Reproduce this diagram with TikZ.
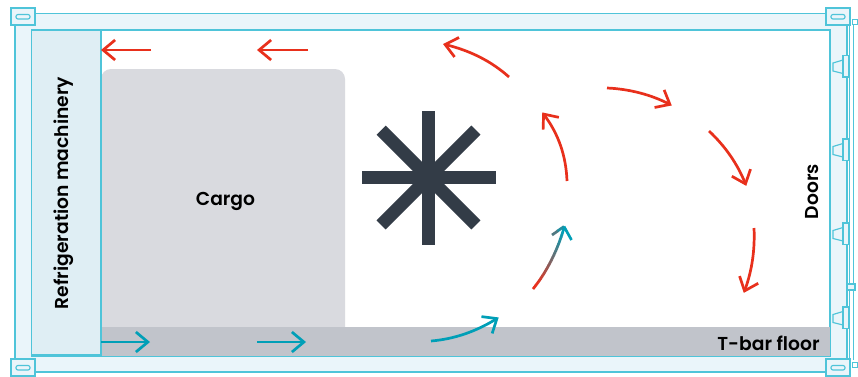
\documentclass[tikz,border=0pt]{standalone}
\usepackage{fontspec}
\setmainfont{Poppins}[BoldFont={Poppins SemiBold}]
\usetikzlibrary{arrows.meta,bending}
\definecolor{bandfill}{HTML}{EAF5FA}
\definecolor{bandline}{HTML}{4FC4D9}
\definecolor{machfill}{HTML}{DFEEF4}
\definecolor{cargofill}{HTML}{D9DADF}
\definecolor{floorfill}{HTML}{C1C4CB}
\definecolor{flowred}{HTML}{E8301C}
\definecolor{flowteal}{HTML}{009FB7}
\definecolor{fancol}{HTML}{333C47}
\tikzset{
  frameline/.style={draw=bandline,line width=1.15pt},
  thinframe/.style={draw=bandline,line width=0.9pt},
  framepart/.style={frameline,fill=bandfill},
  flowtip/.style={-{Straight Barb[length=12pt,width=20pt,flex]},shorten >=-2pt},
  redflow/.style={flowtip,draw=flowred,line width=2.7pt},
  tealflow/.style={flowtip,draw=flowteal,line width=2.7pt},
  textlabel/.style={font=\fontsize{18.7}{21}\selectfont\bfseries,text=black,inner sep=0pt},
  spoke/.style={draw=fancol,line width=13pt}
}
\begin{document}
\begin{tikzpicture}[x=1pt,y=-1pt]
\useasboundingbox (0,0) rectangle (858,376);
% frame band
\draw[framepart] (15,13.5) rectangle (847,372);
\draw[frameline,fill=white] (31.5,30) rectangle (830,356);
% right door lines
\draw[thinframe] (846.5,13.5) -- (846.5,372);
\draw[thinframe] (849,25) -- (849,359);
\draw[thinframe] (853,19) -- (853,360);
% floor, cargo, machinery
\fill[cargofill,rounded corners=10pt] (101,340) -- (101,69) -- (345,69) -- (345,340) -- cycle;
\fill[floorfill] (101,327) rectangle (830,356);
\draw[frameline] (830,30) -- (830,327);
\draw[frameline,fill=machfill] (31.5,30) rectangle (101,355);
% corners
\foreach \x/\y in {11/8,826/8,11/359,826/359}{
  \draw[framepart] (\x,\y) rectangle ++(24,17);
  \draw[framepart,rounded corners=2pt] (\x+5,\y+6.5) rectangle ++(14,4.5);
}
\draw[thinframe,fill=white] (852,19) rectangle (857,24);
\draw[thinframe,fill=white] (852,362) rectangle (857,367);
% hinges
\foreach \y in {55.5,139,223,307}{
  \draw[framepart] (843,\y+4.5) -- (833,\y+7.5) -- (833,\y+15.5) -- (843,\y+18) -- cycle;
  \draw[framepart] (843,\y) rectangle ++(6,21.5);
}
\draw[framepart] (847,284) rectangle (855,290);
% fan
\foreach \a in {0,45,...,315}{
  \draw[spoke] (428.5,177.5) -- ++(\a:67);
}
% flow arrows
\draw[redflow] (151,50) -- (103,50);
\draw[redflow] (308,50) -- (259,50);
\draw[redflow] (509,77) .. controls (490,60) and (468,50) .. (445,44.5);
\draw[redflow] (567,181) .. controls (566,155) and (558,133) .. (543.5,114);
\draw[redflow] (607,88) .. controls (630,89) and (652,95) .. (670,104.5);
\draw[redflow] (709,131) .. controls (726,147) and (738,165) .. (745.5,184);
\draw[redflow] (754,228) .. controls (755,250) and (752,271) .. (744.5,291);
\draw[tealflow] (101,342) -- (148,342);
\draw[tealflow] (257,342) -- (304,342);
\draw[tealflow] (431,341) .. controls (455,339) and (477,331) .. (497,318.5);
% transition arrow, red to teal
\foreach \i in {0,...,29}{
  \pgfmathsetmacro{\t}{\i/30}
  \pgfmathsetmacro{\tn}{(\i+1.15)/30}
  \pgfmathsetmacro{\m}{min(100,max(0,(\i-3)*100/25))}
  \pgfmathsetmacro{\xa}{(1-\t)^3*533+3*(1-\t)^2*\t*546+3*(1-\t)*\t^2*557+\t^3*564}
  \pgfmathsetmacro{\ya}{(1-\t)^3*289+3*(1-\t)^2*\t*273+3*(1-\t)*\t^2*252+\t^3*228}
  \pgfmathsetmacro{\xb}{(1-\tn)^3*533+3*(1-\tn)^2*\tn*546+3*(1-\tn)*\tn^2*557+\tn^3*564}
  \pgfmathsetmacro{\yb}{(1-\tn)^3*289+3*(1-\tn)^2*\tn*273+3*(1-\tn)*\tn^2*252+\tn^3*228}
  \draw[draw=flowteal!\m!flowred,line width=2.7pt] (\xa,\ya) -- (\xb,\yb);
}
\coordinate (gradtip) at (564,226.5);
\draw[draw=flowteal!65!flowred,line width=2.7pt] (552,235) -- (558,230.8);
\draw[draw=flowteal!85!flowred,line width=2.7pt] (557.5,231) -- (gradtip);
\draw[draw=flowteal,line width=2.7pt] (gradtip) -- (571.5,240);
% labels
\node[textlabel,rotate=90] (mach) at (64,193) {Refrigeration machinery};
\node[textlabel] (cargo) at (225.5,201) {Cargo};
\node[textlabel,rotate=90] (doors) at (812.5,191.5) {Doors};
\node[textlabel] (floor) at (768.5,343) {T-bar floor};
\end{tikzpicture}
\end{document}
